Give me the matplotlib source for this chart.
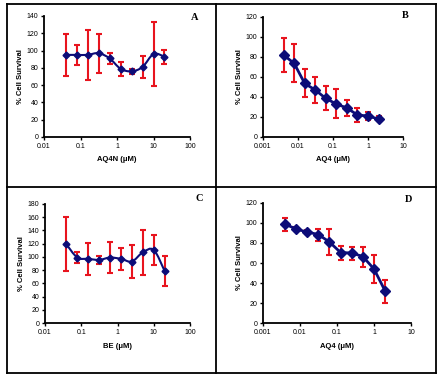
import numpy as np
import matplotlib
matplotlib.use('Agg')
import matplotlib.pyplot as plt
from matplotlib.path import Path
from matplotlib.patches import PathPatch
from matplotlib.lines import Line2D
from matplotlib.ticker import FixedLocator, FixedFormatter, NullLocator

# ---------------- data ----------------
conc_ac = [0.039, 0.078, 0.156, 0.3125, 0.625, 1.25, 2.5, 5, 10, 20]
conc_bd = [0.0039, 0.0078, 0.0156, 0.03125, 0.0625, 0.125, 0.25, 0.5, 1, 2]

surv_a = [95, 95, 95, 97, 91, 79, 76, 81, 96, 93]
err_a = [24, 11.5, 29, 22.5, 6.5, 8, 3, 12.5, 37, 8]

surv_b = [82, 73.5, 53.5, 47, 38.5, 33, 29, 22, 21, 18]
err_b = [17, 19, 14, 13, 12, 14.5, 8, 7, 4, 2.5]

surv_c = [119, 99, 97, 95.5, 99, 97, 93, 107, 110.5, 78.5]
err_c = [41, 8, 24, 6, 23, 17, 25, 34, 22.5, 23]

surv_d = [99, 94, 91, 88.5, 81, 70.5, 70, 66.5, 54, 32]
err_d = [6.5, 2, 2, 6, 13, 7, 6.5, 10, 14, 11.5]

xticks_ac = [0.01, 0.1, 1, 10, 100]
xticklabels_ac = ['0.01', '0.1', '1', '10', '100']
xticks_bd = [0.001, 0.01, 0.1, 1, 10]
xticklabels_bd = ['0.001', '0.01', '0.1', '1', '10']

panel_letters = ['A', 'B', 'C', 'D']
xlabels = ['AQ4N (\u03bcM)', 'AQ4 (\u03bcM)', 'BE (\u03bcM)', 'AQ4 (\u03bcM)']
ylabel = '% Cell Survival'
ymax = [140, 120, 180, 120]
ystep = [20, 20, 20, 20]

NAVY = '#0c0c78'
RED = '#e8141e'

W, H = 444, 375
fig = plt.figure(figsize=(W / 100, H / 100), dpi=100)
fig.patch.set_facecolor('white')


def px_rect(l, r, t, b):
    return [l / W, 1 - b / H, (r - l) / W, (b - t) / H]


def smooth_path(x, y):
    lx = np.log10(np.asarray(x, float))
    yy = np.asarray(y, float)
    P = np.column_stack([lx, yy])
    n = len(P)
    verts = [P[0]]
    codes = [Path.MOVETO]
    for i in range(n - 1):
        p0 = P[i - 1] if i > 0 else P[i]
        p3 = P[i + 2] if i + 2 < n else P[i + 1]
        c1 = P[i] + (P[i + 1] - p0) / 6.0
        c2 = P[i + 1] - (p3 - P[i]) / 6.0
        verts += [c1, c2, P[i + 1]]
        codes += [Path.CURVE4] * 3
    verts = np.array(verts)
    verts[:, 0] = 10 ** verts[:, 0]
    return Path(verts, codes)


panels = [
    dict(rect=px_rect(44, 190, 16, 137), x=conc_ac, y=surv_a, e=err_a,
         xt=xticks_ac, xtl=xticklabels_ac, smooth=True, lw=1.5, ms=3.5,
         letter_xy=(195, 18)),
    dict(rect=px_rect(263, 403, 17, 137), x=conc_bd, y=surv_b, e=err_b,
         xt=xticks_bd, xtl=xticklabels_bd, smooth=False, lw=2.0, ms=5,
         letter_xy=(405, 16)),
    dict(rect=px_rect(45, 190, 204, 323), x=conc_ac, y=surv_c, e=err_c,
         xt=xticks_ac, xtl=xticklabels_ac, smooth=True, lw=1.5, ms=3.5,
         letter_xy=(199, 199)),
    dict(rect=px_rect(263, 411, 203, 323), x=conc_bd, y=surv_d, e=err_d,
         xt=xticks_bd, xtl=xticklabels_bd, smooth=False, lw=2.0, ms=5,
         letter_xy=(409, 200)),
]

for i, p in enumerate(panels):
    ax = fig.add_axes(p['rect'])
    ax.set_xscale('log')
    ax.set_xlim(p['xt'][0], p['xt'][-1])
    ax.set_ylim(0, ymax[i])
    ax.errorbar(p['x'], p['y'], yerr=p['e'], fmt='none', ecolor=RED,
                elinewidth=1.5, capsize=2.5, capthick=1.5, zorder=1)
    if p['smooth']:
        ax.add_patch(PathPatch(smooth_path(p['x'], p['y']), fill=False,
                               edgecolor=NAVY, lw=p['lw'], zorder=2))
    else:
        ax.plot(p['x'], p['y'], color=NAVY, lw=p['lw'], zorder=2)
    ax.plot(p['x'], p['y'], linestyle='none', marker='D', ms=p['ms'],
            color=NAVY, zorder=3)

    ax.xaxis.set_major_locator(FixedLocator(p['xt']))
    ax.xaxis.set_major_formatter(FixedFormatter(p['xtl']))
    ax.xaxis.set_minor_locator(NullLocator())
    ax.set_yticks(np.arange(0, ymax[i] + 1, ystep[i]))
    for s in ['top', 'right']:
        ax.spines[s].set_visible(False)
    for s in ['left', 'bottom']:
        ax.spines[s].set_linewidth(1.3)
    ax.tick_params(axis='both', length=2.5, width=1.0, labelsize=5,
                   pad=1.5, colors='black')
    for lab in ax.get_xticklabels() + ax.get_yticklabels():
        lab.set_family('Liberation Sans')
    ax.set_xlabel(xlabels[i], fontsize=5.5, fontweight='bold',
                  family='Liberation Sans', labelpad=5)
    ax.set_ylabel(ylabel, fontsize=5.5, fontweight='bold',
                  family='Liberation Sans', labelpad=2)
    lx, ly = p['letter_xy']
    fig.text(lx / W, 1 - ly / H, panel_letters[i], fontsize=7.5,
             fontweight='bold', family='Liberation Serif',
             ha='center', va='center')

# frame lines of the figure
lines = [
    ((7, 4), (436, 4)), ((7, 373), (436, 373)),
    ((7, 4), (7, 373)), ((436, 4), (436, 373)),
    ((216, 4), (216, 373)), ((7, 187), (436, 187)),
]
for (x0, y0), (x1, y1) in lines:
    fig.add_artist(Line2D([x0 / W, x1 / W], [1 - y0 / H, 1 - y1 / H],
                          transform=fig.transFigure, color='black', lw=1.3))

fig.savefig('out.png', dpi=100)
